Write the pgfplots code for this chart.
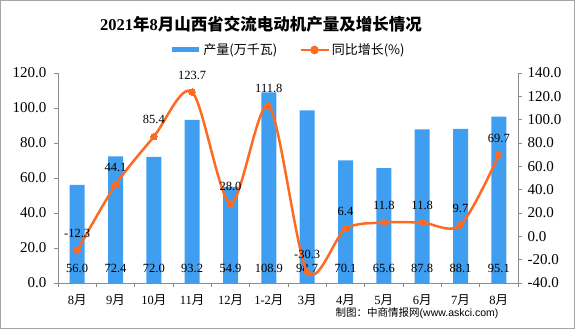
\documentclass[border=0pt]{standalone}
\usepackage{pgfplots}
\usepackage{pgfplotstable}
\pgfplotsset{compat=1.18}
\usepackage{fontspec}
\setmainfont{Liberation Serif}
\newfontfamily\cjk{Noto Sans CJK SC}
\newfontfamily\lsans{Liberation Sans}
\definecolor{barblue}{HTML}{409EF0}
\definecolor{linecol}{HTML}{FF6A22}
\definecolor{axisgray}{HTML}{8C8C8C}
\definecolor{framegray}{HTML}{A6A6A6}
\pgfplotstableread{
x prod growth
0 56.0 -12.3
1 72.4 44.1
2 72.0 85.4
3 93.2 123.7
4 54.9 28.0
5 108.9 111.8
6 98.7 -30.3
7 70.1 6.4
8 65.6 11.8
9 87.8 11.8
10 88.1 9.7
11 95.1 69.7
}\data
\pgfplotsset{
  /pgf/number format/.cd, fixed, fixed zerofill, precision=1, assume math mode=true
}
\pgfplotsset{
  barleg/.style={legend image code/.code={\draw[##1] (0pt,0pt) -- (27pt,0pt);}},
  lineleg/.style={legend image code/.code={\draw[mark repeat=2, mark phase=2, ##1] plot coordinates {(0pt,0pt) (14pt,0pt) (28pt,0pt)};}},
}
\begin{document}
\begin{tikzpicture}
\useasboundingbox (0,0) rectangle (575pt,329pt);
\draw[framegray, line width=1pt] (0.5pt,0.5pt) rectangle (574.5pt,328.5pt);
\node[font=\fontsize{16.5}{16.5}\selectfont\bfseries] at (261pt,305pt)
  {2021{\cjk\bfseries 年}8{\cjk\bfseries 月山西省交流电动机产量及增长情况}};
\begin{axis}[
  at={(58pt,46pt)}, anchor=south west, scale only axis,
  width=460pt, height=210pt,
  xmin=-0.5, xmax=11.5, ymin=0, ymax=120,
  axis x line*=bottom, axis y line*=left,
  axis line style={-, draw=axisgray, line width=0.8pt},
  xtick={-0.5,0.5,...,11.5}, x tick label as interval,
  xticklabels={8{\cjk 月},9{\cjk 月},10{\cjk 月},11{\cjk 月},12{\cjk 月},1-2{\cjk 月},3{\cjk 月},4{\cjk 月},5{\cjk 月},6{\cjk 月},7{\cjk 月},8{\cjk 月}},
  ytick={0,20,...,120},
  tick align=outside, major tick length=4pt,
  tick style={draw=axisgray, line width=0.8pt},
  yticklabel style={font=\fontsize{15}{15}\selectfont, xshift=-4pt},
  xticklabel style={font=\fontsize{12.5}{12.5}\selectfont, yshift=-4pt},
  clip=false,
]
\addplot[ybar, bar width=15pt, fill=barblue, draw=none] table[x=x, y=prod] {\data};
\addplot[draw=none, mark=none, nodes near coords, point meta=\thisrow{prod},
  nodes near coords style={anchor=center, yshift=15pt, text=black, font=\fontsize{12.5}{12.5}\selectfont}]
  table[x=x, y expr=0] {\data};
\end{axis}
\begin{axis}[
  at={(58pt,46pt)}, anchor=south west, scale only axis,
  width=460pt, height=210pt,
  xmin=-0.5, xmax=11.5, ymin=-40, ymax=140,
  axis x line=none, axis y line*=right,
  axis line style={-, draw=axisgray, line width=0.8pt},
  ytick={-40,-20,...,140},
  tick align=outside, major tick length=4pt,
  tick style={draw=axisgray, line width=0.8pt},
  yticklabel style={font=\fontsize{15}{15}\selectfont, xshift=2pt},
  clip=false,
  legend style={at={(0.5,1)}, anchor=center, yshift=23pt, draw=none, fill=none,
    font=\cjk\fontsize{13}{13}\selectfont, legend columns=2,
    /tikz/column 2/.style={column sep=20pt}},
  legend cell align=left,
]
\addlegendimage{barblue, line width=5pt, barleg}
\addlegendentry{产量(万千瓦)}
\addlegendimage{linecol, line width=2.5pt, mark=*, mark size=3pt, mark options={fill=linecol, draw=linecol}, lineleg}
\addlegendentry{同比增长(\%)}
\addplot[linecol, line width=2.5pt, smooth, mark=*, mark size=3.2pt,
  mark options={fill=linecol, draw=linecol, line width=0pt},
  nodes near coords, point meta=\thisrow{growth},
  nodes near coords style={anchor=center, yshift=17pt, text=black, font=\fontsize{12.5}{12.5}\selectfont},
  forget plot]
  table[x=x, y=growth] {\data};
\end{axis}
\node[anchor=east, font=\fontsize{10.5}{10.5}\selectfont] at (502pt,16pt)
  {{\cjk 制图：中商情报网}{\lsans (www.askci.com)}};
\end{tikzpicture}
\end{document}
